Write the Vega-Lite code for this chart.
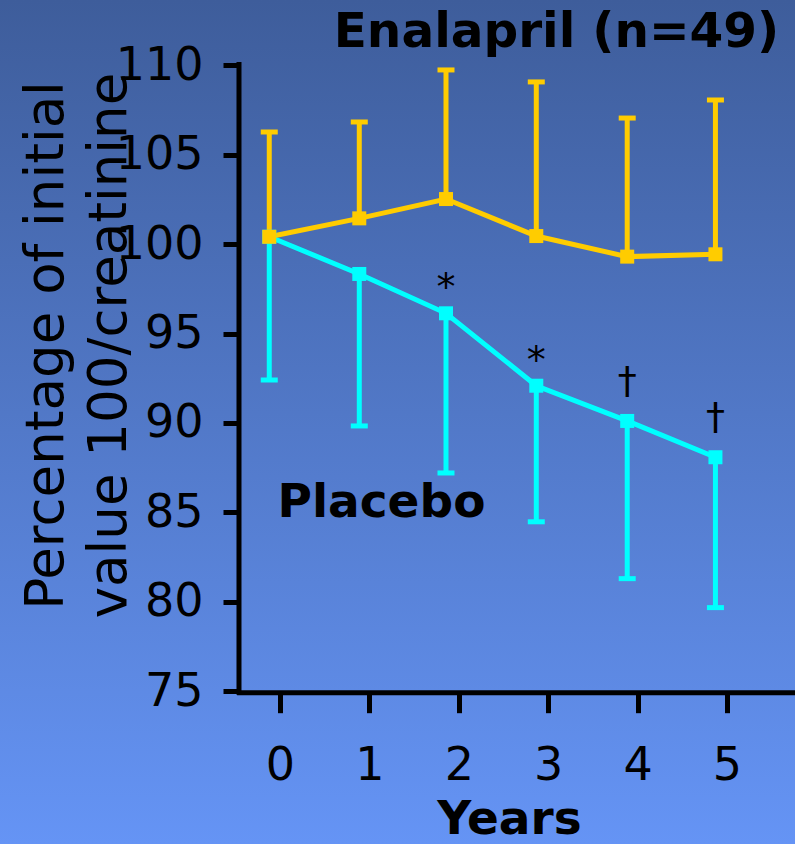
{
  "$schema": "https://vega.github.io/schema/vega-lite/v6.json",
  "width": 795,
  "height": 844,
  "autosize": {"type": "none"},
  "padding": 0,
  "background": "#5078c8",
  "view": {
    "stroke": null,
    "fill": {
      "gradient": "linear",
      "x1": 0, "y1": 0, "x2": 0, "y2": 1,
      "stops": [
        {"offset": 0, "color": "#3E5D9B"},
        {"offset": 1, "color": "#6594F5"}
      ]
    }
  },
  "config": {
    "font": "DejaVu Sans",
    "axis": {"grid": false, "domain": false, "tickColor": "black", "labelColor": "black", "titleColor": "black", "labelFont": "DejaVu Sans", "titleFont": "DejaVu Sans"}
  },
  "datasets": {
    "series": [
      {"group": "Placebo", "t": -0.12, "mean": 100.41, "bound": 92.40, "sig": ""},
      {"group": "Placebo", "t": 0.887, "mean": 98.33, "bound": 89.83, "sig": ""},
      {"group": "Placebo", "t": 1.857, "mean": 96.13, "bound": 87.20, "sig": "*"},
      {"group": "Placebo", "t": 2.867, "mean": 92.08, "bound": 84.47, "sig": "*"},
      {"group": "Placebo", "t": 3.884, "mean": 90.11, "bound": 81.29, "sig": "†"},
      {"group": "Placebo", "t": 4.871, "mean": 88.08, "bound": 79.67, "sig": "†"},
      {"group": "Enalapril", "t": -0.12, "mean": 100.41, "bound": 106.27, "sig": ""},
      {"group": "Enalapril", "t": 0.887, "mean": 101.44, "bound": 106.83, "sig": ""},
      {"group": "Enalapril", "t": 1.857, "mean": 102.52, "bound": 109.74, "sig": ""},
      {"group": "Enalapril", "t": 2.867, "mean": 100.45, "bound": 109.07, "sig": ""},
      {"group": "Enalapril", "t": 3.884, "mean": 99.30, "bound": 107.05, "sig": ""},
      {"group": "Enalapril", "t": 4.871, "mean": 99.43, "bound": 108.06, "sig": ""}
    ],
    "labels": [
      {"text": "Enalapril (n=49)", "t": 3.093, "value": 111.02},
      {"text": "Placebo", "t": 1.135, "value": 84.74}
    ]
  },
  "layer": [
    {
      "data": {"name": "series"},
      "mark": {"type": "rule", "strokeWidth": 5},
      "encoding": {
        "x": {
          "field": "t", "type": "quantitative",
          "scale": {"domain": [-3.132, 5.761], "nice": false, "zero": false},
          "axis": {
            "orient": "bottom", "offset": -151.3,
            "values": [0, 1, 2, 3, 4, 5], "format": "d",
            "tickSize": 20, "tickWidth": 5,
            "labelFontSize": 46, "labelPadding": 31,
            "title": "Years", "titleFontSize": 47, "titleFontWeight": "bold",
            "titleX": 509, "titleY": 141, "titleAlign": "center", "titleBaseline": "alphabetic"
          }
        },
        "y": {
          "field": "mean", "type": "quantitative",
          "scale": {"domain": [66.45, 113.652], "nice": false, "zero": false},
          "axis": {
            "orient": "left", "offset": -239,
            "values": [75, 80, 85, 90, 95, 100, 105, 110],
            "tickSize": 16, "tickWidth": 5,
            "labelFontSize": 46, "labelPadding": 20,
            "title": ["Percentage of initial", "value 100/creatinine"],
            "titleFontSize": 53, "titleFontWeight": "normal",
            "titleAngle": -90, "titleX": -177, "titleY": 345,
            "titleAlign": "center", "titleBaseline": "alphabetic", "titleLineHeight": 63
          }
        },
        "y2": {"field": "bound"},
        "color": {
          "field": "group", "type": "nominal",
          "scale": {"domain": ["Placebo", "Enalapril"], "range": ["#00FFFF", "#FFCC00"]},
          "legend": null
        }
      }
    },
    {
      "data": {"name": "series"},
      "mark": {"type": "tick", "orient": "horizontal", "size": 17, "thickness": 5, "opacity": 1},
      "encoding": {
        "x": {"field": "t", "type": "quantitative"},
        "y": {"field": "bound", "type": "quantitative"},
        "color": {"field": "group", "type": "nominal", "legend": null}
      }
    },
    {
      "data": {"name": "series"},
      "mark": {"type": "line", "strokeWidth": 5},
      "encoding": {
        "x": {"field": "t", "type": "quantitative"},
        "y": {"field": "mean", "type": "quantitative"},
        "color": {"field": "group", "type": "nominal", "legend": null}
      }
    },
    {
      "data": {"name": "series"},
      "mark": {"type": "point", "shape": "square", "filled": true, "size": 196, "opacity": 1},
      "encoding": {
        "x": {"field": "t", "type": "quantitative"},
        "y": {"field": "mean", "type": "quantitative"},
        "color": {"field": "group", "type": "nominal", "legend": null}
      }
    },
    {
      "data": {"name": "series"},
      "transform": [{"filter": "datum.sig === '*'"}],
      "mark": {"type": "text", "fontSize": 38, "color": "black", "align": "center", "baseline": "alphabetic", "dy": -13},
      "encoding": {
        "x": {"field": "t", "type": "quantitative"},
        "y": {"field": "mean", "type": "quantitative"},
        "text": {"field": "sig"}
      }
    },
    {
      "data": {"name": "series"},
      "transform": [{"filter": "datum.sig === '†'"}],
      "mark": {"type": "text", "fontSize": 38, "color": "black", "align": "center", "baseline": "alphabetic", "dy": -28},
      "encoding": {
        "x": {"field": "t", "type": "quantitative"},
        "y": {"field": "mean", "type": "quantitative"},
        "text": {"field": "sig"}
      }
    },
    {
      "data": {"name": "labels"},
      "mark": {"type": "text", "fontWeight": "bold", "color": "black", "align": "center", "baseline": "alphabetic"},
      "encoding": {
        "x": {"field": "t", "type": "quantitative"},
        "y": {"field": "value", "type": "quantitative"},
        "text": {"field": "text"},
        "size": {"condition": {"test": "datum.text === 'Placebo'", "value": 47}, "value": 48.5}
      }
    },
    {
      "data": {"values": [{}]},
      "mark": {"type": "rule", "strokeWidth": 5, "color": "black"},
      "encoding": {
        "x": {"datum": -0.4586, "type": "quantitative"},
        "y": {"datum": 74.8, "type": "quantitative"},
        "y2": {"datum": 110.185}
      }
    },
    {
      "data": {"values": [{}]},
      "mark": {"type": "rule", "strokeWidth": 5, "color": "black"},
      "encoding": {
        "x": {"datum": -0.48, "type": "quantitative"},
        "x2": {"datum": 5.8},
        "y": {"datum": 74.91, "type": "quantitative"}
      }
    }
  ]
}
